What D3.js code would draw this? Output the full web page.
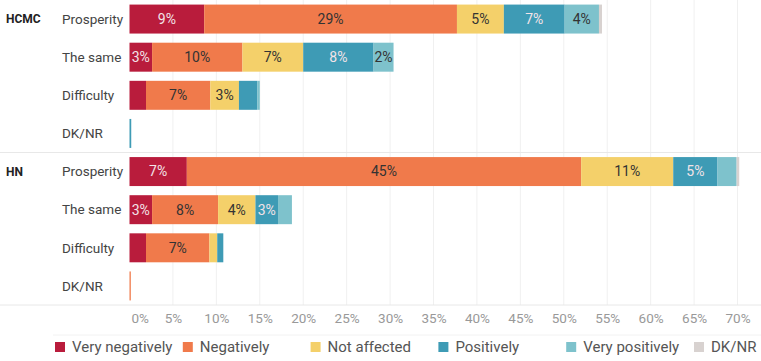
<html>
<head>
<style>
  body { margin: 0; background: #fff; }
  svg text { font-family: Roboto, "Noto Sans", sans-serif; }
</style>
</head>
<body>
<div id="plot"></div>
<script src="https://d3js.org/d3.v7.min.js"></script>
<script type="text/javascript">
// data (percent of respondents)
var groups = ["HCMC", "HN"];
var outcomes = ["Prosperity", "The same", "Difficulty", "DK/NR"];
var series = ["Very negatively", "Negatively", "Not affected", "Positively", "Very positively", "DK/NR"];
var xTicks = [0, 5, 10, 15, 20, 25, 30, 35, 40, 45, 50, 55, 60, 65, 70];

// one value per row: HCMC x 4 outcomes, then HN x 4 outcomes
var veryNegatively = [8.6, 2.6, 1.9, 0, 6.6, 2.6, 1.9, 0];
var negatively     = [29.1, 10.4, 7.4, 0, 45.4, 7.6, 7.3, 0.15];
var notAffected    = [5.4, 7.0, 3.3, 0, 10.6, 4.3, 0.9, 0];
var positively     = [7.0, 8.1, 2.1, 0.2, 5.1, 2.6, 0.7, 0];
var veryPositively = [3.95, 2.3, 0.3, 0, 2.2, 1.6, 0, 0];
var dkNr           = [0.35, 0, 0, 0, 0.3, 0, 0, 0];

var colors = ["#b91c3c", "#f07a4b", "#f4d06a", "#3e9bb5", "#7ec2cc", "#d8d2d0"];
var lightText = [true, false, false, true, false, false];

var width = 761, height = 361;
var paneBottom = 305;

var rows = [];
groups.forEach(function(g, gi){
  outcomes.forEach(function(o, oi){
    var i = gi * outcomes.length + oi;
    rows.push({
      key: g + "|" + o, group: g, outcome: o, first: oi == 0,
      "Very negatively": veryNegatively[i],
      "Negatively": negatively[i],
      "Not affected": notAffected[i],
      "Positively": positively[i],
      "Very positively": veryPositively[i],
      "DK/NR": dkNr[i]
    });
  });
});

var svg = d3.select("#plot").append("svg")
  .attr("width", width)
  .attr("height", height);

var x = d3.scaleLinear().domain([0, 70]).range([129.5, 737.5]);
var y = d3.scaleBand()
  .domain(rows.map(function(d){ return d.key; }))
  .range([0, paneBottom])
  .paddingInner(0.24)
  .paddingOuter(0.12);

// gridlines
svg.append("g").selectAll("line")
  .data(xTicks.slice(1))
  .enter().append("line")
  .attr("x1", function(d){ return x(d); })
  .attr("x2", function(d){ return x(d); })
  .attr("y1", 0).attr("y2", paneBottom)
  .attr("stroke", "#f0f0f0");

// group separators
svg.append("g").selectAll("line")
  .data([paneBottom / 2, paneBottom])
  .enter().append("line")
  .attr("x1", 0).attr("x2", width)
  .attr("y1", function(d){ return d; })
  .attr("y2", function(d){ return d; })
  .attr("stroke", "#e8e8e8");

var stack = d3.stack().keys(series);
var stacked = stack(rows);

var layer = svg.append("g").selectAll("g")
  .data(stacked)
  .enter().append("g")
  .attr("fill", function(d, i){ return colors[i]; });

layer.selectAll("rect")
  .data(function(d){ return d; })
  .enter().append("rect")
  .attr("x", function(d){ return x(d[0]); })
  .attr("y", function(d){ return y(d.data.key); })
  .attr("width", function(d){ return x(d[1]) - x(d[0]); })
  .attr("height", y.bandwidth());

// segment labels
layer.each(function(s, si){
  d3.select(this).selectAll("text")
    .data(s.filter(function(d){ return d[1] - d[0] >= 2.25; }))
    .enter().append("text")
    .attr("x", function(d){ return (x(d[0]) + x(d[1])) / 2; })
    .attr("y", function(d){ return y(d.data.key) + y.bandwidth() / 2; })
    .attr("dy", "0.35em")
    .attr("text-anchor", "middle")
    .attr("font-size", "14px")
    .attr("fill", lightText[si] ? "#f3e3e8" : "#333")
    .text(function(d){ return Math.round(d[1] - d[0]) + "%"; });
});

// row headers
svg.append("g").selectAll("text")
  .data(rows)
  .enter().append("text")
  .attr("x", 62)
  .attr("y", function(d){ return y(d.key) + y.bandwidth() / 2; })
  .attr("dy", "0.35em")
  .attr("font-size", "13.5px")
  .attr("fill", "#444")
  .text(function(d){ return d.outcome; });

svg.append("g").selectAll("text")
  .data(rows.filter(function(d){ return d.first; }))
  .enter().append("text")
  .attr("x", 6)
  .attr("y", function(d){ return y(d.key) + y.bandwidth() / 2; })
  .attr("dy", "0.35em")
  .attr("font-size", "12px")
  .attr("font-weight", "bold")
  .attr("fill", "#222")
  .text(function(d){ return d.group; });

// x axis
var axis = svg.append("g")
  .attr("transform", "translate(0," + (paneBottom + 5) + ")")
  .call(d3.axisBottom(x).tickValues(xTicks).tickSize(0).tickFormat(function(d){ return d + "%"; }));
axis.select(".domain").remove();
axis.selectAll("text")
  .attr("font-size", "13.5px")
  .attr("fill", "#999")
  .style("font-family", "Roboto, sans-serif");
axis.selectAll(".tick").filter(function(d){ return d == 0; })
  .select("text").attr("text-anchor", "start").attr("x", 1.5);

// legend
svg.append("line")
  .attr("x1", 53).attr("x2", width)
  .attr("y1", 335).attr("y2", 335)
  .attr("stroke", "#f2f2f2");

var legend = svg.append("g").selectAll("g")
  .data(series)
  .enter().append("g")
  .attr("transform", function(d, i){ return "translate(" + (55 + i * 127.8) + ",342)"; });

legend.append("rect")
  .attr("width", 10).attr("height", 10)
  .attr("fill", function(d, i){ return colors[i]; });

legend.append("text")
  .attr("x", 17).attr("y", 5)
  .attr("dy", "0.35em")
  .attr("font-size", "15px")
  .attr("fill", "#555")
  .text(function(d){ return d; });
</script>
</body>
</html>
